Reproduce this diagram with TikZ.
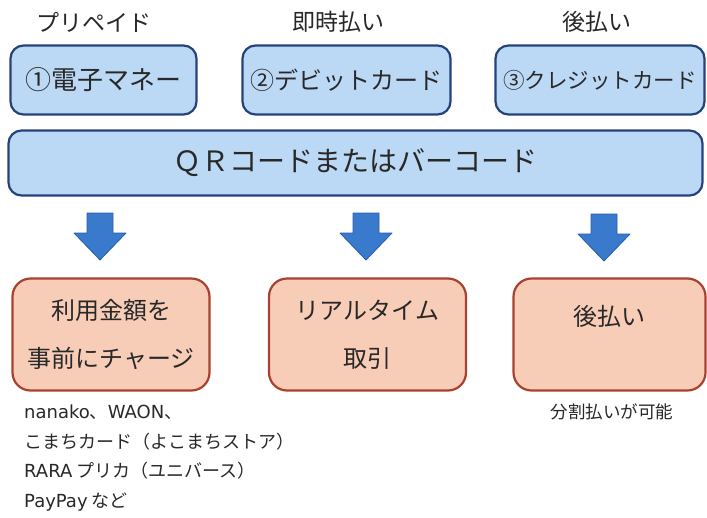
\documentclass[tikz,border=0pt]{standalone}
\usepackage{fontspec}
\setmainfont{Noto Sans CJK JP}
\newfontfamily\latfont{DejaVu Sans}
\usepackage{tikz}
\usetikzlibrary{positioning}
\definecolor{payblue}{RGB}{187,216,244}
\definecolor{payedge}{RGB}{38,66,124}
\definecolor{peach}{RGB}{248,205,184}
\definecolor{peachedge}{RGB}{168,66,46}
\definecolor{arrowblue}{RGB}{58,122,204}
\definecolor{arrowedge}{RGB}{38,92,170}
\definecolor{ink}{RGB}{40,40,40}
\def\fs#1{\fontsize{#1}{#1}\selectfont}
\def\lat#1{{\latfont #1}}

\begin{document}
\begin{tikzpicture}[x=1pt, y=-1pt,
  paybox/.style={draw=payedge, line width=2.2pt, fill=payblue, rounded corners=13pt, text=ink, inner sep=0pt},
  resultbox/.style={draw=peachedge, line width=2.2pt, fill=peach, rounded corners=18pt, text=ink, inner sep=0pt, minimum width=197pt, minimum height=112pt, align=center, font=\fontsize{24}{48}\selectfont},
  bigarrow/.style={fill=arrowblue, draw=arrowedge, line width=0.8pt, line join=round},
  note/.style={text=ink, inner sep=0pt}]
\useasboundingbox (0,0) rectangle (707,517);

% headings
\node[note, font=\fs{23}] (prepaid) at (94,22) {プリペイド};
\node[note, font=\fs{23}] (instant) at (338,22) {即時払い};
\node[note, font=\fs{23}] (later) at (597,22) {後払い};

% payment means
\node[paybox, minimum width=186pt, minimum height=69pt, font=\fs{26}] (emoney) at (103.5,80) {①電子マネー};
\node[paybox, minimum width=208pt, minimum height=69pt, font=\fs{24}] (debit) at (346.5,80) {②デビットカード};
\node[paybox, minimum width=209pt, minimum height=69pt, font=\fs{21.5}] (credit) at (600,80) {③クレジットカード};
\node[paybox, minimum width=694pt, minimum height=65pt, font=\fs{28}] (qr) at (355.5,163) {ＱＲコードまたはバーコード};

% arrows
\draw[bigarrow] (87,213) -- (113,213) -- (113,233) -- (126,233) -- (100,260) -- (74,233) -- (87,233) -- cycle;
\draw[bigarrow] (353,213) -- (379,213) -- (379,233) -- (392,233) -- (366,260) -- (340,233) -- (353,233) -- cycle;
\draw[bigarrow] (591,214) -- (617,214) -- (617,234) -- (630,234) -- (604,261) -- (578,234) -- (591,234) -- cycle;

% results
\node[resultbox] (charge) at (111,334.5) {利用金額を\\事前にチャージ};
\node[resultbox] (realtime) at (367.5,334.5) {リアルタイム\\取引};
\node[resultbox, minimum width=192pt] (pay) at (609.5,334.5) {後払い\\[-12pt]\phantom{後}};

% notes
\node[note, anchor=north west, align=left, font=\fontsize{18}{29.5}\selectfont] (cards) at (24,405) {\lat{nanako}、\lat{WAON}、\\こまちカード（よこまちストア）\\\lat{RARA} プリカ（ユニバース）\\\lat{PayPay} など};
\node[note, font=\fs{17.5}] (split) at (612,412) {分割払いが可能};
\end{tikzpicture}
\end{document}
